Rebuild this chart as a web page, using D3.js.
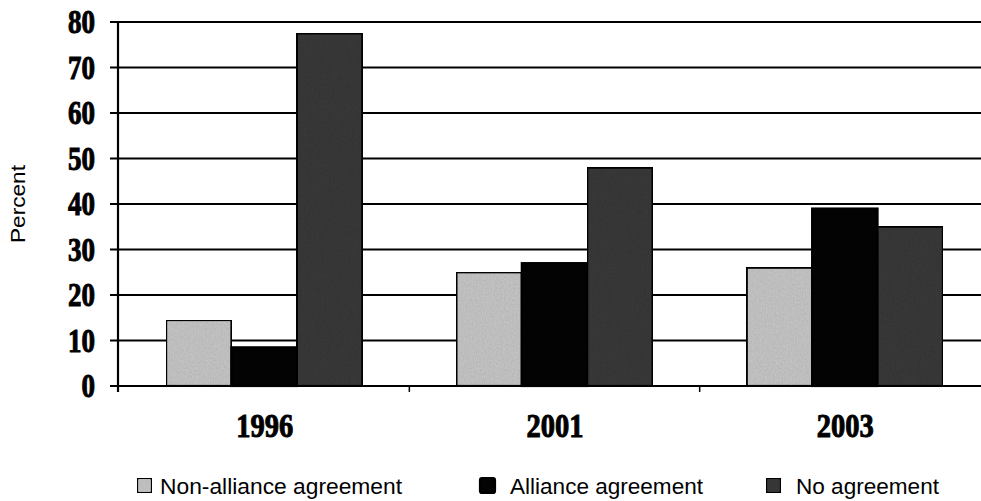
<!DOCTYPE html>
<html><head><meta charset="utf-8">
<script src="https://cdn.jsdelivr.net/npm/d3@7"></script>
<style>body{margin:0;background:#fff}svg{display:block}</style>
</head><body><svg id="c" width="981" height="501"></svg>
<script>
const years = ["1996", "2001", "2003"];
const seriesNames = ["Non-alliance agreement", "Alliance agreement", "No agreement"];
const nonAlliance = [14.5, 25, 26];
const alliance = [8.5, 27, 39];
const noAgreement = [77.5, 48, 35];
const yTicks = [0, 10, 20, 30, 40, 50, 60, 70, 80];
const fills = ["#c4c4c4", "#030303", "#383838"];

const series = [nonAlliance, alliance, noAgreement];
const svg = d3.select("#c");
const defs = svg.append("defs");
const f = defs.append("filter").attr("id", "grain").attr("x", 0).attr("y", 0).attr("width", 1).attr("height", 1);
f.append("feTurbulence").attr("type", "fractalNoise").attr("baseFrequency", "0.9 0.5").attr("numOctaves", 2).attr("seed", 3).attr("result", "n");
f.append("feColorMatrix").attr("in", "n").attr("type", "matrix")
  .attr("values", "0 0 0 0 0.5  0 0 0 0 0.5  0 0 0 0 0.5  0.33 0.33 0.33 0 -0.35").attr("result", "g");
f.append("feComposite").attr("in", "g").attr("in2", "SourceGraphic").attr("operator", "in").attr("result", "gi");
f.append("feBlend").attr("in", "gi").attr("in2", "SourceGraphic").attr("mode", "multiply");

const pLeft = 118, pTop = 22, pBottom = 386;
const x = d3.scaleBand().domain(years).range([119, 990]).paddingInner(0).paddingOuter(0);
const xs = d3.scaleBand().domain(d3.range(3)).range([0, x.bandwidth()]).paddingOuter(0.72).paddingInner(0);
const y = d3.scaleLinear().domain([0, 80]).range([pBottom, pTop]);

// gridlines
svg.append("g").selectAll("line").data(yTicks).join("line")
  .attr("x1", pLeft - 8).attr("x2", 981)
  .attr("y1", d => y(d)).attr("y2", d => y(d))
  .attr("stroke", "#000").attr("stroke-width", 2.2);

// bars
const g = svg.append("g");
years.forEach((yr, i) => {
  series.forEach((s, k) => {
    g.append("rect")
      .attr("x", x(yr) + xs(k))
      .attr("y", y(s[i]))
      .attr("width", xs.bandwidth())
      .attr("height", y(0) - y(s[i]))
      .attr("fill", fills[k]).attr("stroke", "#000").attr("stroke-width", 2.2)
      .attr("filter", k === 1 ? null : "url(#grain)");
  });
});

// y axis line
svg.append("line").attr("x1", pLeft).attr("x2", pLeft).attr("y1", pTop - 1).attr("y2", pBottom + 6)
  .attr("stroke", "#000").attr("stroke-width", 2.2);
// x axis ticks between categories
svg.append("g").selectAll("line").data(years.slice(1)).join("line")
  .attr("x1", d => x(d)).attr("x2", d => x(d))
  .attr("y1", pBottom).attr("y2", pBottom + 6)
  .attr("stroke", "#000").attr("stroke-width", 1.5);

// y tick labels (heavy condensed serif look)
svg.append("g").selectAll("text").data(yTicks).join("text")
  .attr("x", 95).attr("y", d => y(d) + 11)
  .attr("text-anchor", "end")
  .attr("font-family", "Liberation Serif").attr("font-weight", "bold").attr("font-size", 33)
  .attr("textLength", d => String(d).length * 13.5).attr("lengthAdjust", "spacingAndGlyphs")
  .attr("stroke", "#000").attr("stroke-width", 1)
  .text(d => d);

// x labels
svg.append("g").selectAll("text").data(years).join("text")
  .attr("x", d => x(d) + x.bandwidth() / 2 - 28).attr("y", 437)
  .attr("font-family", "Liberation Serif").attr("font-weight", "bold").attr("font-size", 34)
  .attr("textLength", 57).attr("lengthAdjust", "spacingAndGlyphs")
  .attr("stroke", "#000").attr("stroke-width", 1)
  .text(d => d);

// y title
svg.append("text").attr("transform", "translate(25,204) rotate(-90)")
  .attr("text-anchor", "middle")
  .attr("font-family", "Liberation Sans").attr("font-size", 21)
  .attr("textLength", 78).attr("lengthAdjust", "spacingAndGlyphs")
  .text("Percent");

// legend
const legX = [136, 479, 765];
const legLen = [242, 193, 143];
const lg = svg.append("g");
seriesNames.forEach((n, k) => {
  lg.append("rect").attr("x", legX[k] + 1).attr("y", 478).attr("width", 15).attr("height", 15)
    .attr("fill", fills[k]).attr("stroke", "#000").attr("stroke-width", 2.2).attr("rx", 2)
    .attr("filter", k === 1 ? null : "url(#grain)");
  lg.append("text").attr("x", legX[k] + 24 + (k === 0 ? 0 : 7)).attr("y", 494)
    .attr("font-family", "Liberation Sans").attr("font-size", 22)
    .attr("textLength", legLen[k]).attr("lengthAdjust", "spacingAndGlyphs")
    .text(n);
});
</script></body></html>
